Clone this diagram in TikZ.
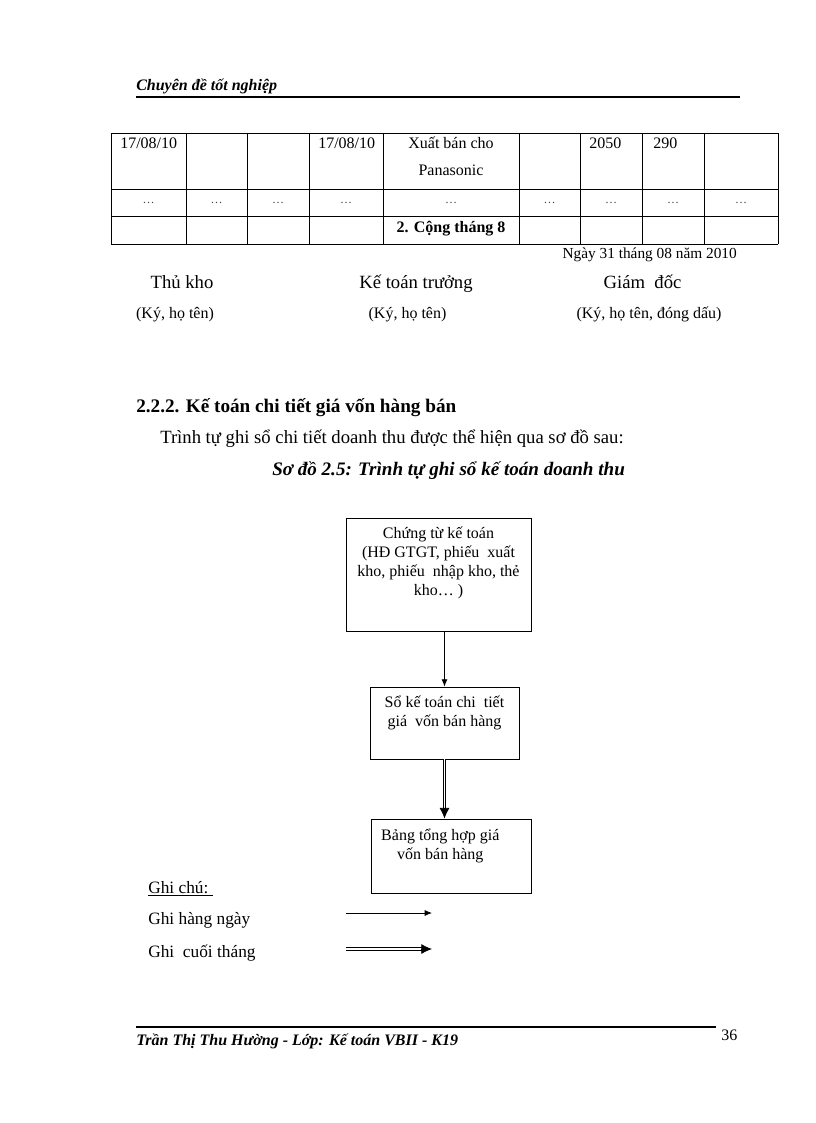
\documentclass[tikz,border=0pt]{standalone}
\usepackage{fontspec}
\setmainfont{Liberation Serif}
\usetikzlibrary{arrows.meta, positioning, calc}
\tikzstyle{process} = [rectangle, draw=black, line width=0.6pt, inner sep=0pt, font=\fontsize{12}{14.25}\selectfont]
\tikzstyle{arrow} = [line width=0.6pt, -{Latex[length=5.5pt,width=4.5pt]}]
\tikzstyle{dblline} = [double, line width=0.6pt, double distance=1.4pt, shorten >=7pt]
\tikzstyle{dbltip} = [line width=0.6pt, -{Latex[length=8pt,width=7.5pt]}]
\tikzstyle{cell} = [anchor=base west, inner sep=0pt, font=\fontsize{12}{14}\selectfont]
\tikzstyle{cellc} = [anchor=base, inner sep=0pt, font=\fontsize{12}{14}\selectfont]
\tikzstyle{dots} = [anchor=base, inner sep=0pt, font=\fontsize{9}{11}\selectfont, text=black!75]
\tikzstyle{sign} = [anchor=base, inner sep=0pt, font=\fontsize{14}{16}\selectfont]
\tikzstyle{signnote} = [anchor=base, inner sep=0pt, font=\fontsize{12}{14}\selectfont]
\tikzstyle{body} = [anchor=base west, inner sep=0pt, font=\fontsize{14}{16}\selectfont]
\tikzstyle{legend} = [anchor=base west, inner sep=0pt, font=\fontsize{13}{16}\selectfont]
\tikzstyle{running} = [anchor=base west, inner sep=0pt, font=\fontsize{12}{14}\selectfont\bfseries\itshape]

\begin{document}
\begin{tikzpicture}[x=0.75pt, y=-0.75pt]
\useasboundingbox (0,0) rectangle (816,1123);

% --------- Running head ----------
\node (HEAD) [running] at (136,91) {Chuyên đề tốt nghiệp};
\draw [line width=1.5pt] (136,97) -- (740,97);

% --------- Table (end of previous page) ----------
\foreach \x in {111,186,247,309,383,519,580,642,704,778}
  \draw [line width=0.6pt] (\x,133) -- (\x,244);
\foreach \y in {133,189,216,244}
  \draw [line width=0.6pt] (111,\y) -- (778,\y);

\node (DATE1) [cell] at (120,149) {17/08/10};
\node (DATE2) [cell] at (318,149) {17/08/10};
\node (DESC1) [cellc] at (451,149) {Xuất\ bán\ cho};
\node (DESC2) [cellc] at (451,176) {Panasonic};
\node (QTY)   [cell] at (589,149) {2050};
\node (PRICE) [cell] at (653,149) {290};
\foreach \x [count=\i] in {148.5,216.5,278,346,451,549.5,611,673,741}
  \node (DOTS\i) [dots] at (\x,204) {\ldots};
\node (TOTAL) [cellc, font=\fontsize{12}{14}\selectfont\bfseries] at (451,233) {2. Cộng tháng 8};
\node (DAY) [cell, anchor=base east, font=\fontsize{11.5}{14}\selectfont] at (737,258) {Ngày 31 tháng 08 năm 2010};

% --------- Signatures ----------
\node (SIGN1) [sign] at (182,288) {Thủ kho};
\node (SIGN2) [sign] at (416,288) {Kế toán trưởng};
\node (SIGN3) [sign] at (642.5,288) {Giám\ \ đốc};
\node (NOTE1) [signnote] at (175,318) {(Ký, họ tên)};
\node (NOTE2) [signnote] at (407.5,318) {(Ký, họ tên)};
\node (NOTE3) [signnote] at (649,318) {(Ký, họ tên, đóng dấu)};

% --------- Section text ----------
\node (SEC) [body, font=\fontsize{14.4}{16}\selectfont\bfseries] at (136,412) {2.2.2. Kế toán chi tiết giá vốn hàng bán};
\node (INTRO) [body] at (160,443) {Trình tự ghi sổ chi tiết doanh thu được thể hiện qua sơ đồ sau:};
\node (CAPTION) [body, font=\fontsize{14.3}{16}\selectfont\bfseries\itshape] at (272,475) {Sơ đồ 2.5: Trình tự ghi sổ kế toán doanh thu};

% --------- Flow chart ----------
\node (SOURCE) [process] at (438.5,574.5) {\parbox[t][84.75pt][t]{138.75pt}{\centering\rule{0pt}{15pt}Chứng từ kế toán\\ (HĐ GTGT, phiếu\ \ xuất\\ kho, phiếu\ \ nhập kho, thẻ\\ kho… )}};
\node (LEDGER) [process] at (444.5,723) {\parbox[t][54pt][t]{111.75pt}{\centering\rule{0pt}{15pt}Sổ kế toán chi\ \ tiết\\ giá\ \ vốn bán hàng}};
\node (SUMMARY) [process] at (451,856) {\parbox[t][55.5pt][t]{120pt}{\centering\rightskip=16pt plus 1fil\relax\rule{0pt}{16pt}Bảng tổng hợp giá\\ vốn bán hàng}};

\draw [arrow] (SOURCE.south -| LEDGER.north) -- (LEDGER.north);
\draw [dblline] (LEDGER.south) -- (LEDGER.south |- SUMMARY.north);
\draw [dbltip] ([yshift=8pt]LEDGER.south |- SUMMARY.north) -- (LEDGER.south |- SUMMARY.north);

% --------- Legend ----------
\node (KEY)     [legend] at (148,893) {\underline{Ghi\ chú:\ }};
\node (DAILY)   [legend] at (148,924) {Ghi hàng ngày};
\node (MONTHLY) [legend] at (148,957) {Ghi\ \ cuối tháng};
\coordinate (DAILYa) at (346,913);
\coordinate (DAILYb) at (432,913);
\coordinate (MONTHa) at (346,949);
\coordinate (MONTHb) at (432,949);
\draw [arrow] (DAILYa) -- (DAILYb);
\draw [dblline] (MONTHa) -- (MONTHb);
\draw [dbltip] ([xshift=-8pt]MONTHb) -- (MONTHb);

% --------- Running foot ----------
\draw [line width=1.5pt] (136,1027) -- (716,1027);
\node (FOOT) [running] at (136,1045) {Trần Thị Thu Hường - Lớp: Kế toán VBII - K19};
\node (PAGE) [cell] at (721,1040) {36};

\end{tikzpicture}
\end{document}
